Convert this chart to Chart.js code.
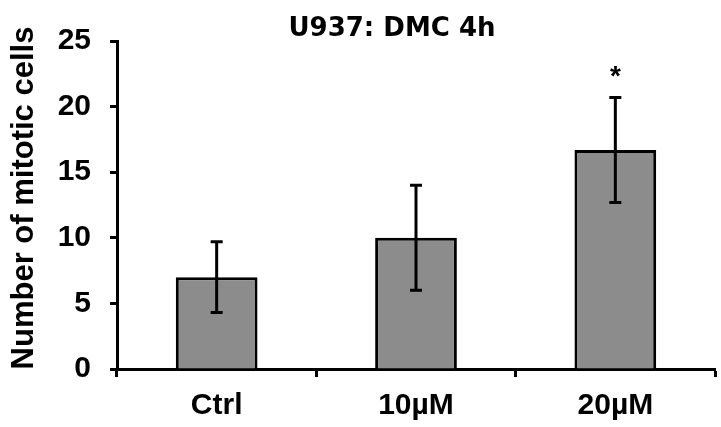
<!DOCTYPE html>
<html>
<head>
<meta charset="utf-8">
<script src="https://cdn.jsdelivr.net/npm/chart.js@4"></script>
<style>
  body { margin: 0; background: #fff; }
  canvas { display: block; }
</style>
</head>
<body>
<canvas id="myChart" width="721" height="427"></canvas>
<script>
const categories = ["Ctrl", "10\u00b5M", "20\u00b5M"]
const means = [7.0, 10.0, 16.7]
const errors = [2.7, 4.0, 4.0]
const marks = ["", "", "*"]
const yTicks = [0, 5, 10, 15, 20, 25]

const chartTitle = "U937: DMC 4h"
const yTitle = "Number of mitotic cells"

const wideFont = '"DejaVu Sans", sans-serif'
const armFont = 'Arial, "Liberation Sans", sans-serif'

// error bars, asterisk and the two titles
const extras = {
    id: "extras",
    afterDatasetsDraw(chart) {
        const ctx = chart.ctx
        const y = chart.scales.y
        const bars = chart.getDatasetMeta(0).data
        ctx.save()
        ctx.strokeStyle = "#000"
        ctx.lineWidth = 3
        bars.forEach((bar, i) => {
            const top = y.getPixelForValue(means[i] + errors[i])
            const bot = y.getPixelForValue(means[i] - errors[i])
            ctx.beginPath()
            ctx.moveTo(bar.x, top)
            ctx.lineTo(bar.x, bot)
            ctx.moveTo(bar.x - 6, top)
            ctx.lineTo(bar.x + 6, top)
            ctx.moveTo(bar.x - 6, bot)
            ctx.lineTo(bar.x + 6, bot)
            ctx.stroke()
            if (marks[i]) {
                ctx.fillStyle = "#000"
                ctx.font = "bold 28px " + armFont
                ctx.textAlign = "center"
                ctx.textBaseline = "alphabetic"
                ctx.fillText(marks[i], bar.x, top - 12)
            }
        })

        ctx.fillStyle = "#000"
        ctx.textAlign = "center"
        ctx.textBaseline = "alphabetic"
        ctx.font = "bold 26px " + wideFont
        ctx.fillText(chartTitle, 392, 36)

        ctx.translate(33, 198)
        ctx.rotate(-Math.PI / 2)
        ctx.font = "bold 31px " + armFont
        ctx.fillText(yTitle, 0, 0)
        ctx.restore()
    }
}

const data = {
    labels: categories,
    datasets: [
        {
            data: means,
            backgroundColor: "#8c8c8c",
            borderColor: "#000",
            borderWidth: 3,
            barPercentage: 0.41,
            categoryPercentage: 1
        }
    ]
}

new Chart("myChart", {
    type: "bar",
    data: data,
    plugins: [extras],
    options: {
        responsive: false,
        animation: false,
        events: [],
        layout: { padding: { top: 41, right: 6, left: 0, bottom: 0 } },
        plugins: {
            legend: { display: false },
            tooltip: { enabled: false }
        },
        scales: {
            x: {
                grid: {
                    offset: true,
                    drawOnChartArea: false,
                    tickLength: 8,
                    tickWidth: 3,
                    tickColor: "#000",
                    color: "#000"
                },
                border: { color: "#000", width: 3 },
                ticks: {
                    color: "#000",
                    padding: 11,
                    font: { family: armFont, size: 30, weight: "bold" }
                },
                afterFit(scale) { scale.height = 58 }
            },
            y: {
                min: 0,
                max: 25,
                afterBuildTicks(scale) {
                    scale.ticks = yTicks.map(v => ({ value: v }))
                },
                grid: {
                    drawOnChartArea: false,
                    tickLength: 7,
                    tickWidth: 3,
                    tickColor: "#000",
                    color: "#000"
                },
                border: { color: "#000", width: 3 },
                ticks: {
                    color: "#000",
                    padding: 19,
                    font: { family: armFont, size: 30, weight: "bold" }
                },
                afterFit(scale) { scale.width = 117 }
            }
        }
    }
})
</script>
</body>
</html>
